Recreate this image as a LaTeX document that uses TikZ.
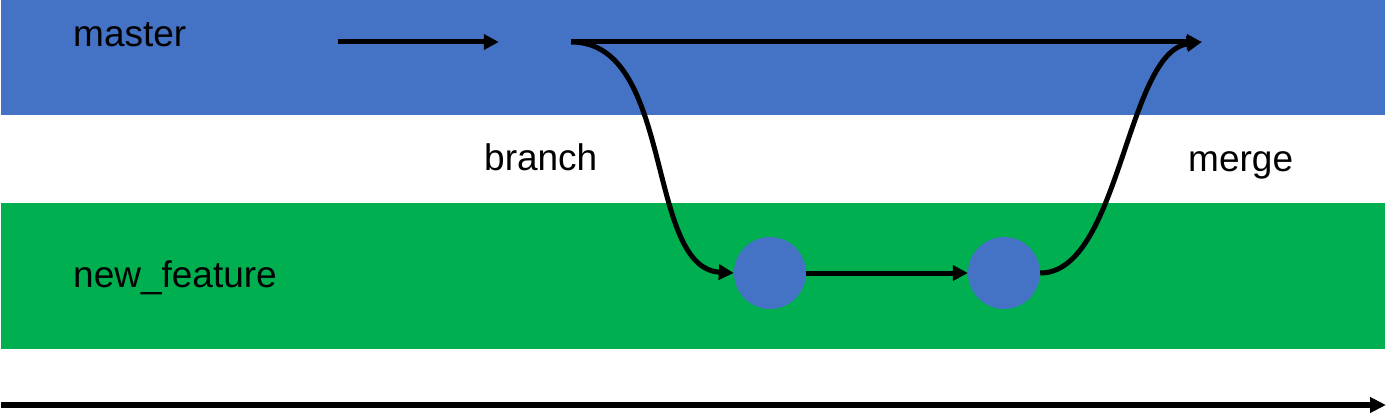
\documentclass[tikz,border=0pt]{standalone}
\usepackage{fontspec}
\setmainfont{Liberation Sans}
\usetikzlibrary{arrows.meta}
\definecolor{bandblue}{HTML}{4472C4}
\definecolor{bandgreen}{HTML}{00B050}
\tikzset{
  lbl/.style={inner sep=0pt, anchor=base west, font=\fontsize{37}{44}\selectfont},
  commit/.style={circle, fill=bandblue, draw=none, minimum size=72pt, inner sep=0pt},
  flow/.style={line width=5pt, -{Triangle[length=15pt,width=15pt]}},
  timeline/.style={line width=5.5pt, -{Triangle[length=16pt,width=15pt]}}
}
\begin{document}
\begin{tikzpicture}[x=1pt,y=-1pt]
\useasboundingbox (0,0) rectangle (1400,420);
\fill[bandblue] (1,0) rectangle (1385,115);
\fill[bandgreen] (1,203) rectangle (1385,349);
% labels
\node[lbl] (lmaster) at (73,47) {master};
\node[lbl] (lfeat) at (73,287) {new\_feature};
\node[lbl] (lbranch) at (484,170) {branch};
\node[lbl] (lmerge) at (1188,171) {merge};
% commits
\node[commit] (m1) at (302,42) {};
\node[commit] (m2) at (535,42) {};
\node[commit] (m3) at (1238,42) {};
\node[commit] (f1) at (770,273) {};
\node[commit] (f2) at (1004,273) {};
% connectors
\draw[flow] (m1.east) -- (m2.west);
\draw[flow] (m2.east) -- (m3.west);
\draw[flow] (m2.east) .. controls (675,42) and (645,268) .. (f1.west);
\draw[flow] (f1.east) -- (f2.west);
\draw[flow] (f2.east) .. controls (1120,273) and (1126,52) .. (m3.west);
% time axis
\coordinate (t0) at (1,405);
\coordinate (t1) at (1386,405);
\draw[timeline] (t0) -- (t1);
\end{tikzpicture}
\end{document}
